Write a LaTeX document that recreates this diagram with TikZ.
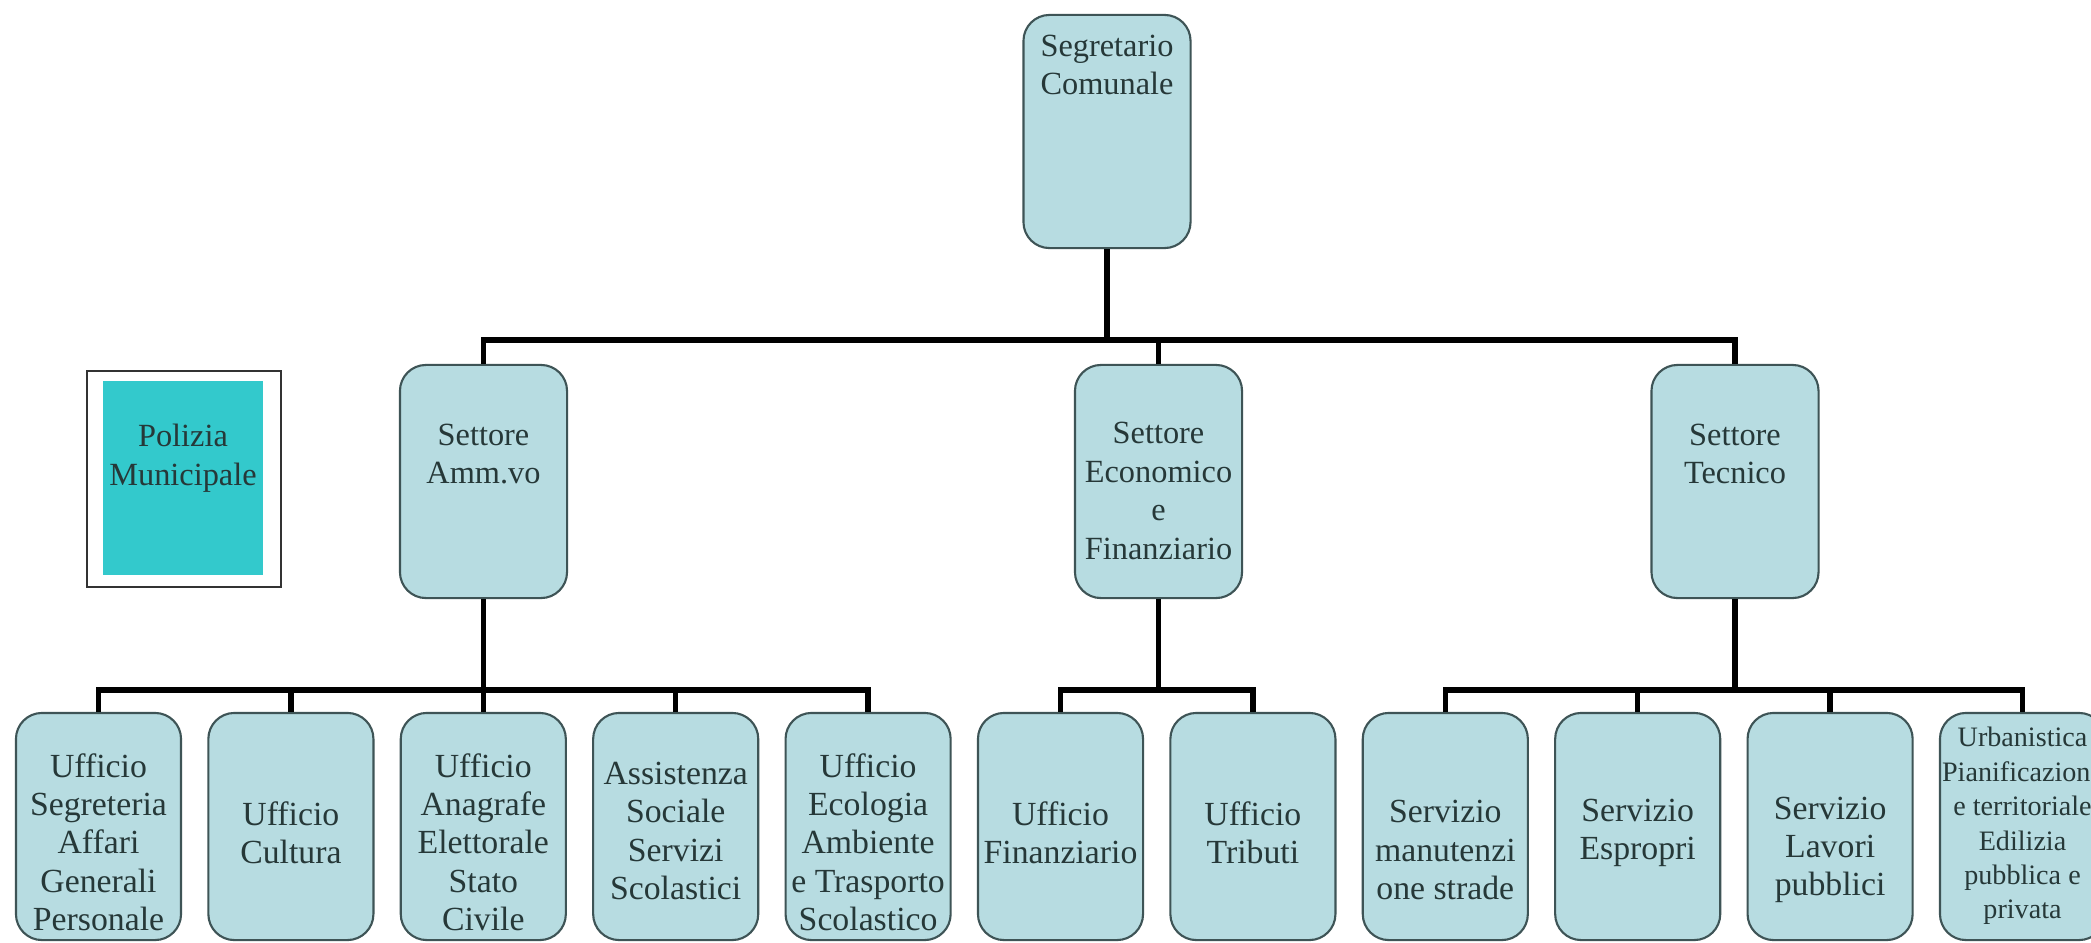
\documentclass[tikz,border=0pt]{standalone}
\usepackage{fontspec}
\setmainfont{Liberation Serif}
\definecolor{cell}{HTML}{B7DCE1}
\definecolor{edge}{HTML}{3E5456}
\definecolor{ink}{HTML}{263838}
\definecolor{turq}{HTML}{33C9CC}
\begin{document}
\begin{tikzpicture}[x=0.01cm,y=-0.01cm,
	box/.style={draw=edge,fill=cell,rounded corners=2.6mm,line width=0.6pt,minimum width=1.67cm,minimum height=2.33cm,inner sep=0pt},
	unit/.style={box,minimum width=1.65cm,minimum height=2.27cm},
	lbl/.style={align=center,text=ink,inner sep=0pt,font=\fontsize{9.2}{11}\selectfont},
	link/.style={line width=1.5pt}]
	\clip (0,0) rectangle (2091,942);
	\fill[white] (0,0) rectangle (2091,942);
	\coordinate (hi) at (0,340);
	\coordinate (lo) at (0,690);
	\node[box] (seg) at (1107,131.5) {};
	\node[lbl] (segt) at (1107,65) {Segretario\\Comunale};
	\node[box] (amm) at (483.5,481.5) {};
	\node[lbl] (ammt) at (483.5,454) {Settore\\Amm.vo};
	\node[box] (eco) at (1158.5,481.5) {};
	\node[lbl] (ecot) at (1158.5,491) {Settore\\Economico\\e\\Finanziario};
	\node[box] (tec) at (1735,481.5) {};
	\node[lbl] (tect) at (1735,454) {Settore\\Tecnico};
	\node[draw=black!80,line width=0.6pt,minimum width=1.94cm,minimum height=2.16cm] (pol) at (184,479) {};
	\node[fill=turq,minimum width=1.6cm,minimum height=1.94cm] (polf) at (183,478) {};
	\node[lbl] (polt) at (183,458) {Polizia\\Municipale};
	\foreach \i/\y/\t in {1/842/{Ufficio\\Segreteria\\Affari\\Generali\\Personale},2/833/{Ufficio\\Cultura},
		3/842/{Ufficio\\Anagrafe\\Elettorale\\Stato\\Civile},4/831/{Assistenza\\Sociale\\Servizi\\Scolastici},
		5/842/{Ufficio\\Ecologia\\Ambiente\\e Trasporto\\Scolastico},6/833/{Ufficio\\Finanziario},7/833/{Ufficio\\Tributi},
		8/850/{Servizio\\manutenzi\\one strade},9/833/{Servizio\\Espropri},10/850/{Servizio\\Lavori\\pubblici}}{
		\pgfmathsetmacro{\x}{98.5+192.4*(\i-1)}
		\node[unit] (u\i) at (\x,826.5) {};
		\node[lbl,font=\fontsize{9.6}{10.9}\selectfont] (u\i t) at (\x,\y) {\t};
	}
	\node[unit] (u11) at (2022.5,826.5) {};
	\node[lbl,font=\fontsize{8}{9.8}\selectfont] (u11t) at (2022.5,826) {Urbanistica\\Pianificazione\\e territoriale\\Edilizia\\pubblica e\\privata};
	\draw[link] (seg.south) -- (seg.south |- hi);
	\draw[link] (amm.north) -- (amm.north |- hi) -- (tec.north |- hi) -- (tec.north);
	\draw[link] (eco.north) -- (eco.north |- hi);
	\draw[link] (amm.south) -- (amm.south |- lo);
	\draw[link] (u1.north) -- (u1.north |- lo) -- (u5.north |- lo) -- (u5.north);
	\foreach \i in {2,3,4} \draw[link] (u\i.north) -- (u\i.north |- lo);
	\draw[link] (eco.south) -- (eco.south |- lo);
	\draw[link] (u6.north) -- (u6.north |- lo) -- (u7.north |- lo) -- (u7.north);
	\draw[link] (tec.south) -- (tec.south |- lo);
	\draw[link] (u8.north) -- (u8.north |- lo) -- (u11.north |- lo) -- (u11.north);
	\foreach \i in {9,10} \draw[link] (u\i.north) -- (u\i.north |- lo);
\end{tikzpicture}
\end{document}
